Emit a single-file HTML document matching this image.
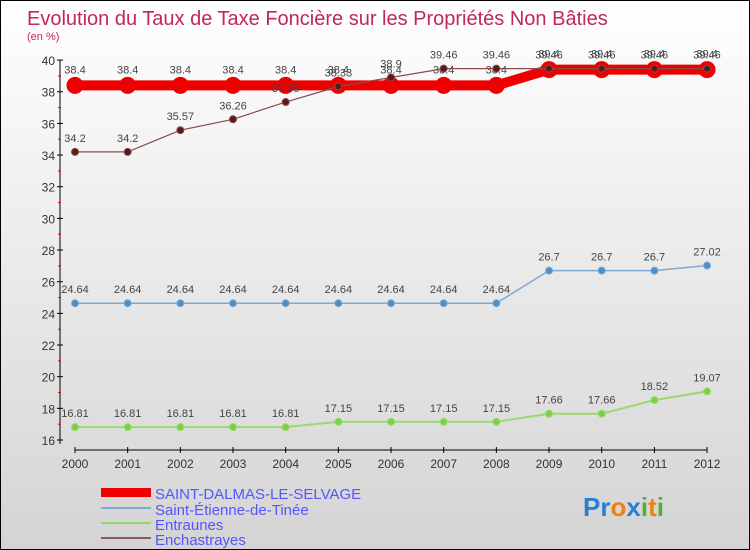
<!DOCTYPE html>
<html><head><meta charset="utf-8"><style>
body{margin:0}
#c{width:750px;height:550px;position:relative;box-sizing:border-box;border:1px solid #000;background:linear-gradient(#fff,#d4d4d4);font-family:"Liberation Sans",sans-serif;overflow:hidden}
</style></head><body>
<div id="c">
<svg width="748" height="548" id="svg">
<text x="26" y="24" font-size="20" fill="#c0285a">Evolution du Taux de Taxe Foncière sur les Propriétés Non Bâties</text>
<text x="26" y="39" font-size="11" fill="#c0285a">(en %)</text>
<g id="g"></g>
<g font-size="15">
<rect x="100" y="487" width="50" height="9" fill="#e00"/>
<text x="154" y="498" fill="#5555ff">SAINT-DALMAS-LE-SELVAGE</text>
<line x1="100" y1="507" x2="150" y2="507" stroke="#7fa9cf" stroke-width="2"/>
<text x="154" y="514" fill="#5555ff">Saint-Étienne-de-Tinée</text>
<line x1="100" y1="522" x2="150" y2="522" stroke="#8fd86a" stroke-width="2"/>
<text x="154" y="529" fill="#5555ff">Entraunes</text>
<line x1="100" y1="537" x2="150" y2="537" stroke="#8a5a5a" stroke-width="2"/>
<text x="154" y="544" fill="#5555ff">Enchastrayes</text>
</g>
<text x="582" y="515" font-size="26" font-weight="bold"><tspan fill="#2a7fd4">Pr</tspan><tspan fill="#f08010">o</tspan><tspan fill="#2a7fd4">x</tspan><tspan fill="#50b030">i</tspan><tspan fill="#f08010">t</tspan><tspan fill="#50b030">i</tspan></text>
</svg>
</div>
<script>
const years=[2000,2001,2002,2003,2004,2005,2006,2007,2008,2009,2010,2011,2012];
const yTicks=[16,18,20,22,24,26,28,30,32,34,36,38,40];
const dalmas=[38.4,38.4,38.4,38.4,38.4,38.4,38.4,38.4,38.4,39.4,39.4,39.4,39.4];
const etienne=[24.64,24.64,24.64,24.64,24.64,24.64,24.64,24.64,24.64,26.7,26.7,26.7,27.02];
const entraunes=[16.81,16.81,16.81,16.81,16.81,17.15,17.15,17.15,17.15,17.66,17.66,18.52,19.07];
const enchas=[34.2,34.2,35.57,36.26,37.35,38.33,38.9,39.46,39.46,39.46,39.46,39.46,39.46];
const NS="http://www.w3.org/2000/svg";
const g=document.getElementById('g');
const X=i=>74+i*52.67;
const Y=v=>439-(v-16)*15.83;
function mk(t,a,p){const e=document.createElementNS(NS,t);for(const k in a)e.setAttribute(k,a[k]);(p||g).appendChild(e);return e;}
// axes
let ax=mk('line',{x1:59,y1:Y(40),x2:59,y2:Y(16)+4,stroke:'#000'});


let xx=mk('line',{x1:X(0),y1:449,x2:X(12),y2:449,stroke:'#000'});


yTicks.forEach(v=>{
  mk('line',{x1:56,y1:Y(v),x2:62,y2:Y(v),stroke:'#000'});
  if(v<40)mk('line',{x1:57,y1:Y(v+1),x2:60,y2:Y(v+1),stroke:'#e00'});
  const t=mk('text',{x:54,y:Y(v)+5,'font-size':12,'text-anchor':'end',fill:'#333'});t.textContent=v;
  
  
});
years.forEach((yr,i)=>{
  mk('line',{x1:X(i),y1:446,x2:X(i),y2:452,stroke:'#000'});
  const t=mk('text',{x:X(i),y:467,'font-size':12,'text-anchor':'middle',fill:'#333'});t.textContent=yr;
  
  
});
function series(vals,name,color,fill,w,r,labels){
  const pts=vals.map((v,i)=>X(i)+','+Y(v)).join(' ');
  const l=mk('polyline',{points:pts,fill:'none',stroke:color,'stroke-width':w});
  
  
  vals.forEach((v,i)=>{
    const c=mk('circle',{cx:X(i),cy:Y(v),r:r,fill:fill,stroke:color,'stroke-width':1});
    
    
    const t=mk('text',{x:X(i),y:Y(v)-10-(r>5?2:0),'font-size':11,'text-anchor':'middle',fill:'#444'});
    t.textContent=labels?labels[i]:v;
    
    
  });
}
series(entraunes,'entraunes','#9ad870','#7fd040',2,3.5);
series(etienne,'saint-etienne','#7fa9cf','#4a90c8',1.5,3.5);
series(dalmas,'saint-dalmas','#e00','#e00',10,8);
series(enchas,'enchastrayes','#8a4a4a','#5a1a1a',1.2,3.5);
</script>
</body></html>
